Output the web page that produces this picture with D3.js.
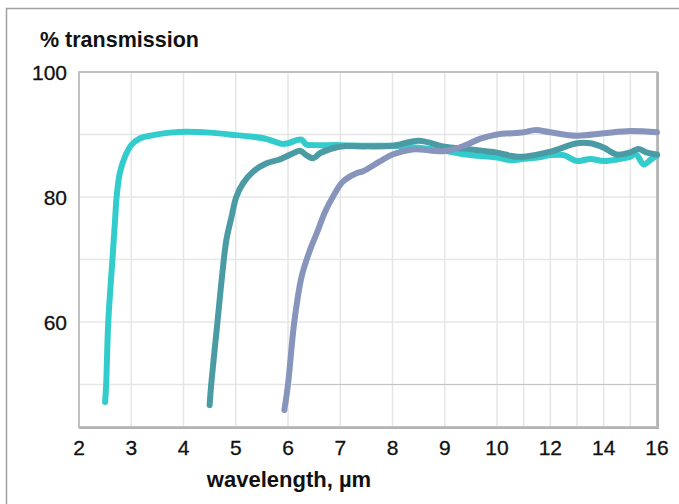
<!DOCTYPE html>
<html>
<head>
<meta charset="utf-8">
<script src="https://cdn.jsdelivr.net/npm/d3@7"></script>
<style>
  body { margin: 0; background: #fff; }
  svg { display: block; font-family: "Liberation Sans", Arial, sans-serif; }
</style>
</head>
<body>
<script>
// chart size
var width = 679;
var height = 504;

// plot area
var margin = {left: 79, right: 657, top: 72, bottom: 427};

// data: wavelength (µm) and % transmission
var cyanWl = [2.50, 2.52, 2.56, 2.64, 2.69, 2.72, 2.78, 2.88, 3.0, 3.17, 3.42, 3.74, 4.06, 4.5, 5.0, 5.53, 5.9, 6.0, 6.25, 6.35, 6.5, 7.0, 7.5, 8.0, 8.5, 9.0, 9.4, 10.0, 10.5, 11.0, 11.5, 12.0, 12.5, 13.0, 13.5, 14.0, 14.5, 15.0, 15.2, 15.5, 15.8, 16.0];
var cyanT  = [47.2, 50, 60, 70, 76.3, 80, 83.8, 86.45, 88.3, 89.4, 89.9, 90.3, 90.45, 90.3, 89.9, 89.4, 88.5, 88.6, 89.2, 88.4, 88.3, 88.3, 88.2, 88.2, 87.9, 87.4, 86.8, 86.3, 85.9, 86.1, 86.3, 86.7, 86.7, 85.75, 86.1, 85.75, 86.0, 86.45, 86.9, 85.2, 86.1, 86.6];

var tealWl = [4.50, 4.53, 4.65, 4.73, 4.82, 4.92, 5.01, 5.14, 5.33, 5.59, 5.84, 6.10, 6.23, 6.35, 6.48, 6.61, 6.86, 7.12, 7.5, 8.0, 8.5, 9.0, 9.4, 10.0, 10.5, 10.75, 11.0, 12.0, 13.0, 13.5, 14.0, 14.5, 15.0, 15.3, 15.6, 16.0];
var tealT  = [46.7, 50, 60, 66.7, 73.1, 76.85, 80, 82.2, 84.05, 85.4, 86.0, 87.0, 87.4, 86.7, 86.2, 87.0, 87.8, 88.15, 88.1, 88.2, 89.0, 88.05, 87.7, 87.1, 86.6, 86.45, 86.45, 87.25, 88.6, 88.6, 87.9, 86.8, 87.15, 87.7, 87.15, 86.8];

var lavWl = [5.93, 6.0, 6.12, 6.26, 6.42, 6.55, 6.71, 6.86, 7.05, 7.31, 7.43, 7.75, 8.0, 8.38, 9.0, 9.4, 9.67, 10.0, 11.0, 11.43, 12.0, 13.0, 14.0, 15.0, 16.0];
var lavT  = [45.9, 50, 60, 67.25, 71.5, 74.2, 77.65, 80.05, 82.45, 83.8, 84.1, 85.65, 86.8, 87.6, 87.35, 88.3, 89.3, 90.0, 90.35, 90.7, 90.35, 89.8, 90.2, 90.55, 90.35];

var xTicks = [2, 3, 4, 5, 6, 7, 8, 9, 10, 12, 14, 16];
var xGrid = [3, 4, 5, 6, 7, 8, 9, 10, 11, 12, 13, 14, 15];
var yTicks = [60, 80, 100];
var yGrid = [50, 60, 70, 80, 90];

var series = [
  {wl: cyanWl, t: cyanT, color: "#33cccc"},
  {wl: tealWl, t: tealT, color: "#4b9ba5"},
  {wl: lavWl, t: lavT, color: "#8795bd"}
];

// x axis is stretched below 10 µm, compressed above
var x = d3.scaleLinear()
    .domain([2, 10, 16])
    .range([margin.left, 497, margin.right]);

var y = d3.scaleLinear()
    .domain([43.2, 100])
    .range([margin.bottom, margin.top]);

var svg = d3.select("body")
    .append("svg")
    .attr("width", width)
    .attr("height", height);

// outer frame
svg.append("path")
    .attr("d", "M6.5," + height + "V8.5H" + width)
    .attr("fill", "none")
    .attr("stroke", "#a0a0a0")
    .attr("stroke-width", 1.5);

// gridlines
svg.append("g").selectAll("line")
    .data(xGrid)
    .enter().append("line")
    .attr("x1", function(d) { return x(d); })
    .attr("x2", function(d) { return x(d); })
    .attr("y1", margin.top)
    .attr("y2", margin.bottom)
    .attr("stroke", "#e6e6e6")
    .attr("stroke-width", 1.5);

svg.append("g").selectAll("line")
    .data(yGrid)
    .enter().append("line")
    .attr("x1", margin.left)
    .attr("x2", margin.right)
    .attr("y1", function(d) { return y(d); })
    .attr("y2", function(d) { return y(d); })
    .attr("stroke", "#e6e6e6")
    .attr("stroke-width", 1.5);

// the 50% line is darker on its right part
svg.append("line")
    .attr("x1", x(6.08))
    .attr("x2", margin.right)
    .attr("y1", y(50))
    .attr("y2", y(50))
    .attr("stroke", "#c4c4c4")
    .attr("stroke-width", 1.2);

// plot border
svg.append("rect")
    .attr("x", margin.left)
    .attr("y", margin.top)
    .attr("width", margin.right - margin.left)
    .attr("height", margin.bottom - margin.top)
    .attr("fill", "none")
    .attr("stroke", "#c0c0c0")
    .attr("stroke-width", 2);

svg.append("path")
    .attr("d", "M" + (margin.right + 1) + "," + margin.top + "V" + (margin.bottom + 1) + "H" + margin.left)
    .attr("fill", "none")
    .attr("stroke", "#b4b4b4")
    .attr("stroke-width", 2);

// curves
var line = d3.line()
    .x(function(d) { return x(d[0]); })
    .y(function(d) { return y(d[1]); })
    .curve(d3.curveCatmullRom.alpha(0.5));

series.forEach(function(s) {
  var pts = s.wl.map(function(w, i) { return [w, s.t[i]]; });
  svg.append("path")
      .datum(pts)
      .attr("d", line)
      .attr("fill", "none")
      .attr("stroke", s.color)
      .attr("stroke-width", 6)
      .attr("stroke-linecap", "round")
      .attr("stroke-linejoin", "round");
});

// tick labels
svg.append("g").selectAll("text")
    .data(xTicks)
    .enter().append("text")
    .attr("x", function(d) { return x(d); })
    .attr("y", 455)
    .attr("text-anchor", "middle")
    .attr("font-size", "21px")
    .attr("fill", "#111")
    .attr("stroke", "#111")
    .attr("stroke-width", 0.3)
    .text(function(d) { return d; });

svg.append("g").selectAll("text")
    .data(yTicks)
    .enter().append("text")
    .attr("x", 67)
    .attr("y", function(d) { return y(d); })
    .attr("dy", "0.36em")
    .attr("text-anchor", "end")
    .attr("font-size", "21px")
    .attr("fill", "#111")
    .attr("stroke", "#111")
    .attr("stroke-width", 0.3)
    .text(function(d) { return d; });

// axis titles
svg.append("text")
    .attr("x", 40)
    .attr("y", 47)
    .attr("font-size", "21.5px")
    .attr("font-weight", "bold")
    .attr("fill", "#111")
    .text("% transmission");

svg.append("text")
    .attr("x", 289)
    .attr("y", 487)
    .attr("text-anchor", "middle")
    .attr("font-size", "22px")
    .attr("font-weight", "bold")
    .attr("fill", "#111")
    .text("wavelength, µm");
</script>
</body>
</html>
